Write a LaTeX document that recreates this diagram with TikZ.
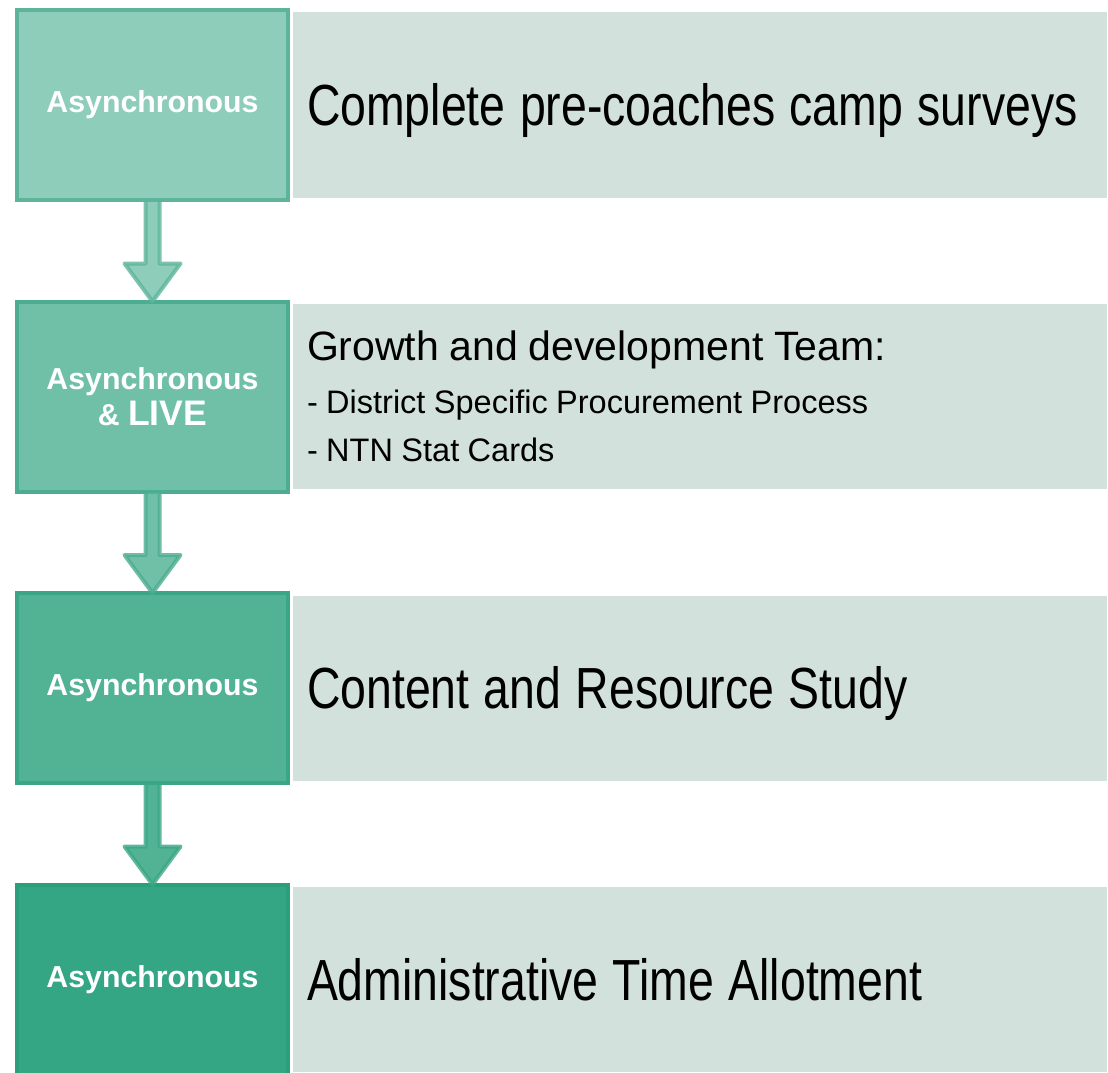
\documentclass[tikz,border=0pt]{standalone}
\usepackage{fontspec}
\setmainfont{Liberation Sans}
\newfontfamily\notefont[FakeStretch=0.8]{Liberation Sans}
\usetikzlibrary{positioning, calc}
\definecolor{stepA}{HTML}{8FCDBB}
\definecolor{stepB}{HTML}{70C0A8}
\definecolor{stepC}{HTML}{52B394}
\definecolor{stepD}{HTML}{34A683}
\definecolor{stepedge}{HTML}{1F9672}
\definecolor{notegrey}{HTML}{D2E1DB}
\setlength{\parindent}{0pt}

\begin{document}
\begin{tikzpicture}[x=1pt, y=1pt,
    stage/.style={draw=#1!55!stepedge, fill=#1, line width=4pt, minimum width=271pt,
      minimum height=190pt, inner sep=0pt, align=center, text=white,
      font=\bfseries\fontsize{30.3}{36}\selectfont},
    note/.style={fill=notegrey, outer sep=0pt, minimum width=814pt, minimum height=185pt,
      inner xsep=14pt, text width=786pt, align=left, font=\fontsize{32.5}{48}\selectfont,
      execute at begin node={\spaceskip=0.26em\relax}},
    bignote/.style={note, font=\notefont\fontsize{58}{60}\selectfont, text height=41.5pt, text depth=0pt,
      execute at begin node={\spaceskip=0.25em\relax}},
    flow/.style={draw=#1!55!stepedge, fill=#1, line width=4pt, line join=round, draw opacity=0.8},
  ]
  \useasboundingbox (0,0) rectangle (1108,-1073);

  \node [stage=stepA] (s1) at (152.5,-105) {Asynchronous};
  \node [stage=stepB, below=97.5pt of s1] (s2) {Asynchronous\\ \& {\fontsize{35.5}{36}\selectfont LIVE}};
  \node [stage=stepC, below=97.5pt of s2] (s3) {Asynchronous};
  \node [stage=stepD, below=97.5pt of s3] (s4) {Asynchronous};

  \node [bignote, right=3pt of s1] (n1) {Complete pre-coaches camp surveys};
  \node [note, right=3pt of s2] (n2) {{\fontsize{41}{54}\selectfont\spaceskip=0.26em Growth and development Team:}\\[5pt]
    - District Specific Procurement Process\\
    - NTN Stat Cards};
  \node [bignote, right=3pt of s3] (n3) {Content and Resource Study};
  \node [bignote, right=3pt of s4] (n4) {Administrative Time Allotment};

  % block arrows between the stages
  \filldraw [flow=stepA] ($(s1.south)+(-7,0)$) |- ($(s2.north)+(-28,36)$) -- ($(s2.north)+(0,-2)$)
    -- ($(s2.north)+(28,36)$) -| ($(s1.south)+(7,0)$);
  \filldraw [flow=stepB] ($(s2.south)+(-7,0)$) |- ($(s3.north)+(-28,36)$) -- ($(s3.north)+(0,-2)$)
    -- ($(s3.north)+(28,36)$) -| ($(s2.south)+(7,0)$);
  \filldraw [flow=stepC] ($(s3.south)+(-7,0)$) |- ($(s4.north)+(-28,36)$) -- ($(s4.north)+(0,-2)$)
    -- ($(s4.north)+(28,36)$) -| ($(s3.south)+(7,0)$);
\end{tikzpicture}
\end{document}
